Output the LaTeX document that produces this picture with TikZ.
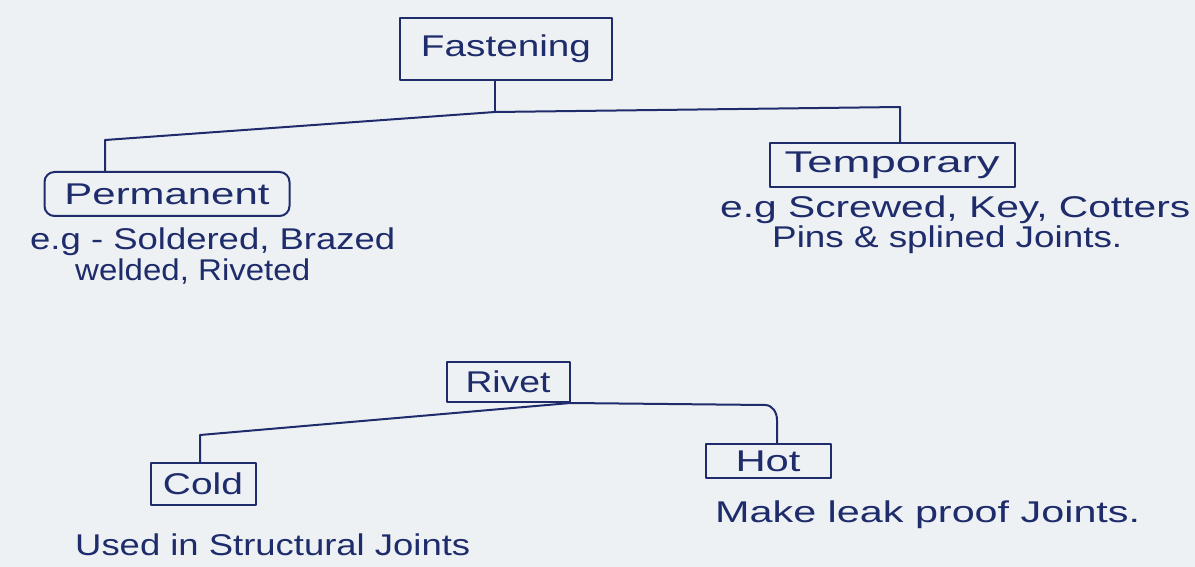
\documentclass[tikz,border=0pt]{standalone}
\usepackage{fontspec}
\usepackage{graphicx}
\setmainfont{Liberation Sans}
\definecolor{ink}{HTML}{1F2C6B}
\definecolor{paper}{HTML}{EDF1F4}
\newcommand\fitw[2]{\resizebox{#1}{\height}{#2}}
\begin{document}
\begin{tikzpicture}[x=1pt,y=-1pt,
  ink line/.style={draw=ink,line width=2pt,line cap=round,line join=round},
  tbox/.style={ink line,inner sep=0pt,text=ink,font=\fontsize{30}{34}\selectfont},
  note/.style={text=ink,font=\fontsize{30}{34}\selectfont,inner sep=0pt,align=left}]
\useasboundingbox[fill=paper] (0,0) rectangle (1195,567);
% top level
\node[tbox,minimum width=212pt,minimum height=62pt] (fast) at (506,49) {\fitw{170pt}{Fastening}};
\node[tbox,minimum width=245pt,minimum height=44pt,rounded corners=10pt] (perm) at (167,194) {\fitw{205pt}{Permanent}};
\node[tbox,minimum width=245pt,minimum height=44pt] (temp) at (892,165) {\fitw{215pt}{Temporary}};
\coordinate (jL) at (105,140);
\coordinate (jM) at (495,112);
\coordinate (jR) at (900,107);
\draw[ink line] (fast.south -| jM) -- (jM);
\draw[ink line] (jL |- perm.north) -- (jL) -- (jM) -- (jR) -- (jR |- temp.north);
\node[note,anchor=west] (permtxt1) at (30,242) {\fitw{365pt}{e.g - Soldered, Brazed}};
\node[note,anchor=west] (permtxt2) at (75,272) {\fitw{235pt}{welded, Riveted}};
\node[note,anchor=west] (temptxt1) at (720,210) {\fitw{470pt}{e.g Screwed, Key, Cotters}};
\node[note,anchor=west] (temptxt2) at (772,240) {\fitw{350pt}{Pins \& splined Joints.}};
% rivet
\node[tbox,minimum width=123pt,minimum height=40pt] (rivet) at (508,382) {\fitw{85pt}{Rivet}};
\node[tbox,minimum width=105pt,minimum height=42pt] (cold) at (203,484) {\fitw{80pt}{Cold}};
\node[tbox,minimum width=125pt,minimum height=34pt] (hot) at (768,461) {\fitw{65pt}{Hot}};
\coordinate (cL) at (200,435);
\coordinate (hR) at (765,405);
\coordinate (hR2) at (777,420);
\draw[ink line] (cL |- cold.north) -- (cL) -- (rivet.south east) -- (hR) to[out=0,in=90] (hR2) -- (hR2 |- hot.north);
\node[note,anchor=west] (coldtxt) at (75,545) {\fitw{395pt}{Used in Structural Joints}};
\node[note,anchor=west] (hottxt) at (715,515) {\fitw{425pt}{Make leak proof Joints.}};
\end{tikzpicture}
\end{document}
